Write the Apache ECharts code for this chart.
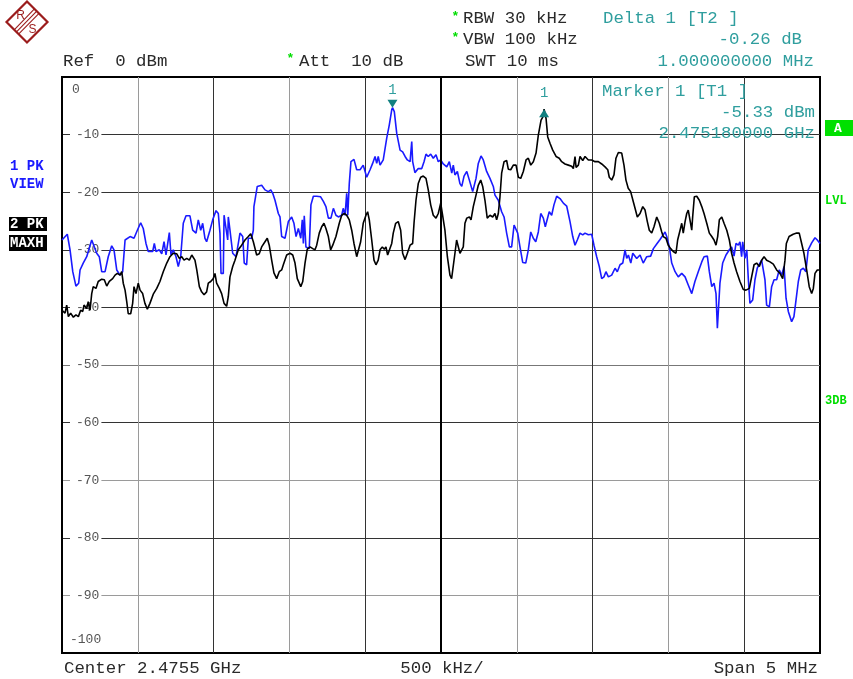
<!DOCTYPE html>
<html>
<head>
<meta charset="utf-8">
<script src="https://cdn.jsdelivr.net/npm/echarts@6/dist/echarts.min.js"></script>
<style>
  html, body { margin: 0; padding: 0; background: #fff; }
  #chart { width: 853px; height: 679px; }
</style>
</head>
<body>
<div id="chart"></div>
<script>
// Sweep setup (MHz / dBm)
const centerFreq = 2475.5;
const spanMHz = 5;
const divFreq = 0.5;
const refLevel = 0;
const bottomLevel = -100;
const levelDiv = 10;
const startFreq = centerFreq - spanMHz / 2;
const stopFreq = centerFreq + spanMHz / 2;

// Marker readouts
const marker1 = { freq: 2475.18, level: -5.33 };
const delta1 = { dFreq: 1.0, dLevel: -0.26 };

// Trace 1: PK, VIEW  [frequency MHz, level dBm]
const trace1 = [
  [2473.000,-28.3],[2473.035,-27.3],[2473.053,-30.0],[2473.071,-33.8],[2473.092,-36.3],[2473.110,-35.8],[2473.119,-33.5],[2473.140,-32.3],
  [2473.163,-31.2],[2473.196,-28.3],[2473.206,-28.0],[2473.229,-30.6],[2473.246,-31.2],[2473.262,-33.8],[2473.284,-33.8],[2473.305,-31.2],
  [2473.328,-29.3],[2473.343,-30.0],[2473.361,-33.5],[2473.383,-34.4],[2473.400,-33.8],[2473.416,-28.3],[2473.449,-27.7],[2473.475,-28.0],
  [2473.497,-26.6],[2473.519,-25.3],[2473.536,-26.3],[2473.554,-28.9],[2473.569,-30.3],[2473.598,-30.3],[2473.609,-28.9],[2473.620,-30.3],
  [2473.642,-30.0],[2473.658,-30.7],[2473.673,-28.6],[2473.686,-30.9],[2473.708,-27.0],[2473.719,-30.9],[2473.734,-30.0],[2473.752,-31.2],
  [2473.767,-32.9],[2473.783,-31.2],[2473.800,-25.4],[2473.818,-24.1],[2473.844,-24.1],[2473.862,-26.6],[2473.884,-27.1],[2473.899,-24.8],
  [2473.915,-26.6],[2473.928,-25.4],[2473.943,-28.0],[2473.954,-28.6],[2473.976,-26.6],[2473.994,-24.8],[2474.016,-23.2],[2474.031,-23.7],
  [2474.042,-27.1],[2474.049,-34.1],[2474.064,-34.1],[2474.069,-24.0],[2474.082,-24.3],[2474.093,-28.3],[2474.097,-24.3],[2474.108,-26.6],
  [2474.126,-30.6],[2474.148,-31.2],[2474.163,-28.9],[2474.174,-27.1],[2474.192,-27.7],[2474.202,-32.3],[2474.218,-32.6],[2474.229,-28.0],
  [2474.251,-28.0],[2474.262,-26.6],[2474.266,-22.5],[2474.288,-19.0],[2474.317,-18.8],[2474.339,-19.6],[2474.361,-19.9],[2474.377,-19.6],
  [2474.390,-20.2],[2474.405,-21.4],[2474.427,-23.7],[2474.438,-24.3],[2474.449,-27.7],[2474.471,-28.0],[2474.493,-25.1],[2474.515,-24.3],
  [2474.530,-25.4],[2474.544,-27.7],[2474.559,-26.3],[2474.575,-28.0],[2474.585,-24.8],[2474.592,-28.9],[2474.598,-24.1],[2474.609,-29.5],
  [2474.631,-29.8],[2474.642,-22.2],[2474.658,-20.7],[2474.680,-20.7],[2474.706,-20.8],[2474.724,-21.6],[2474.741,-22.5],[2474.757,-24.5],
  [2474.774,-24.5],[2474.790,-22.8],[2474.807,-24.0],[2474.823,-24.3],[2474.845,-24.0],[2474.855,-22.8],[2474.867,-24.0],[2474.878,-20.2],
  [2474.885,-24.0],[2474.895,-18.5],[2474.906,-14.7],[2474.926,-14.3],[2474.944,-16.1],[2474.966,-16.1],[2474.987,-15.3],[2475.010,-17.4],
  [2475.032,-16.1],[2475.049,-15.0],[2475.065,-13.8],[2475.076,-15.0],[2475.086,-13.8],[2475.098,-15.3],[2475.119,-14.4],[2475.142,-10.6],
  [2475.159,-8.3],[2475.175,-5.7],[2475.180,-5.33],[2475.192,-6.0],[2475.208,-9.8],[2475.230,-12.7],[2475.247,-13.0],[2475.263,-13.8],
  [2475.278,-14.4],[2475.296,-14.7],[2475.307,-11.2],[2475.313,-14.7],[2475.328,-16.6],[2475.350,-15.9],[2475.373,-15.9],[2475.388,-14.7],
  [2475.401,-13.4],[2475.416,-13.8],[2475.432,-13.4],[2475.449,-14.1],[2475.467,-13.5],[2475.482,-14.7],[2475.498,-14.4],[2475.515,-15.1],
  [2475.538,-15.6],[2475.555,-14.7],[2475.571,-16.7],[2475.581,-15.3],[2475.592,-17.0],[2475.608,-16.4],[2475.625,-18.5],[2475.637,-19.0],
  [2475.652,-17.2],[2475.670,-16.4],[2475.687,-17.9],[2475.709,-19.9],[2475.731,-17.6],[2475.746,-15.0],[2475.764,-13.7],[2475.779,-14.4],
  [2475.801,-16.4],[2475.823,-17.6],[2475.845,-19.0],[2475.856,-20.5],[2475.878,-21.4],[2475.900,-23.4],[2475.916,-24.3],[2475.933,-27.1],
  [2475.951,-29.5],[2475.966,-29.5],[2475.982,-25.7],[2475.995,-25.4],[2476.006,-27.1],[2476.021,-29.5],[2476.039,-32.2],[2476.059,-32.3],
  [2476.076,-30.0],[2476.092,-26.9],[2476.109,-28.0],[2476.125,-28.6],[2476.142,-26.9],[2476.158,-23.7],[2476.175,-24.5],[2476.188,-26.0],
  [2476.201,-25.7],[2476.214,-23.4],[2476.230,-24.0],[2476.245,-22.2],[2476.263,-20.7],[2476.285,-21.1],[2476.307,-21.9],[2476.329,-22.4],
  [2476.351,-25.1],[2476.369,-27.7],[2476.384,-29.2],[2476.399,-28.3],[2476.417,-27.1],[2476.435,-27.4],[2476.450,-27.1],[2476.472,-27.4],
  [2476.494,-27.3],[2476.509,-29.2],[2476.527,-31.2],[2476.544,-32.9],[2476.560,-35.0],[2476.575,-34.7],[2476.588,-33.8],[2476.604,-34.7],
  [2476.626,-34.4],[2476.648,-33.2],[2476.663,-33.8],[2476.681,-32.6],[2476.699,-32.3],[2476.714,-30.0],[2476.725,-31.5],[2476.736,-30.9],
  [2476.752,-32.3],[2476.765,-30.6],[2476.791,-31.5],[2476.813,-30.9],[2476.834,-32.3],[2476.857,-31.2],[2476.883,-31.1],[2476.901,-29.8],
  [2476.923,-29.0],[2476.945,-28.2],[2476.966,-27.4],[2476.978,-26.9],[2476.989,-27.7],[2477.006,-29.5],[2477.022,-32.3],[2477.044,-33.8],
  [2477.065,-34.7],[2477.088,-34.1],[2477.110,-34.7],[2477.131,-36.1],[2477.154,-37.6],[2477.175,-35.5],[2477.197,-33.8],[2477.220,-32.1],
  [2477.235,-31.2],[2477.257,-31.1],[2477.270,-33.8],[2477.286,-36.4],[2477.301,-35.8],[2477.314,-37.6],[2477.323,-43.6],[2477.336,-43.9],
  [2477.340,-35.8],[2477.358,-32.3],[2477.380,-30.9],[2477.402,-30.0],[2477.417,-29.5],[2477.433,-31.1],[2477.446,-28.9],[2477.461,-29.2],
  [2477.472,-28.6],[2477.483,-31.2],[2477.490,-28.6],[2477.505,-31.5],[2477.517,-30.0],[2477.527,-35.0],[2477.538,-39.3],[2477.556,-38.7],
  [2477.571,-35.2],[2477.586,-33.2],[2477.604,-32.3],[2477.615,-31.8],[2477.626,-32.1],[2477.637,-35.2],[2477.648,-39.6],[2477.666,-39.9],
  [2477.681,-36.4],[2477.697,-35.2],[2477.714,-35.2],[2477.731,-33.5],[2477.747,-34.4],[2477.763,-32.9],[2477.776,-38.4],[2477.791,-40.7],
  [2477.813,-42.5],[2477.828,-41.6],[2477.842,-38.7],[2477.857,-35.5],[2477.873,-33.5],[2477.890,-33.2],[2477.907,-33.8],[2477.922,-30.0],
  [2477.945,-28.8],[2477.967,-27.9],[2477.982,-28.3],[2478.000,-28.9]
];

// Trace 2: PK, MAXH  [frequency MHz, level dBm]
const trace2 = [
  [2473.000,-40.5],[2473.020,-41.0],[2473.031,-39.6],[2473.042,-41.6],[2473.057,-41.0],[2473.075,-41.7],[2473.092,-41.3],[2473.108,-41.6],
  [2473.123,-40.5],[2473.137,-40.7],[2473.145,-39.6],[2473.163,-40.2],[2473.173,-39.0],[2473.185,-40.5],[2473.196,-37.6],[2473.206,-36.4],
  [2473.224,-36.7],[2473.239,-35.5],[2473.262,-35.1],[2473.279,-35.2],[2473.295,-36.3],[2473.312,-35.5],[2473.334,-35.0],[2473.350,-34.4],
  [2473.365,-34.1],[2473.383,-34.4],[2473.394,-33.8],[2473.404,-35.8],[2473.416,-37.0],[2473.427,-39.0],[2473.437,-41.1],[2473.453,-41.1],
  [2473.466,-39.3],[2473.475,-36.4],[2473.488,-37.6],[2473.503,-35.8],[2473.515,-37.0],[2473.532,-37.6],[2473.547,-39.3],[2473.563,-40.3],
  [2473.580,-39.3],[2473.602,-37.7],[2473.625,-36.7],[2473.646,-35.5],[2473.668,-33.8],[2473.691,-32.3],[2473.712,-31.2],[2473.734,-30.6],
  [2473.757,-30.7],[2473.774,-31.5],[2473.790,-31.2],[2473.805,-31.8],[2473.823,-31.5],[2473.840,-31.8],[2473.856,-30.9],[2473.866,-30.7],
  [2473.877,-31.8],[2473.889,-33.5],[2473.906,-36.4],[2473.921,-37.3],[2473.937,-37.8],[2473.954,-37.3],[2473.965,-35.8],[2473.981,-35.5],
  [2473.998,-35.0],[2474.009,-34.1],[2474.020,-35.8],[2474.038,-36.7],[2474.053,-37.6],[2474.069,-39.3],[2474.086,-39.8],[2474.097,-38.1],
  [2474.108,-34.7],[2474.126,-32.9],[2474.141,-31.8],[2474.163,-30.0],[2474.185,-29.2],[2474.207,-28.3],[2474.229,-27.7],[2474.245,-27.2],
  [2474.262,-28.6],[2474.284,-30.9],[2474.301,-30.7],[2474.317,-29.5],[2474.339,-28.6],[2474.354,-28.0],[2474.367,-29.2],[2474.383,-31.8],
  [2474.398,-34.0],[2474.416,-35.0],[2474.433,-33.8],[2474.449,-33.5],[2474.460,-32.6],[2474.482,-30.9],[2474.504,-30.6],[2474.522,-30.9],
  [2474.537,-32.3],[2474.552,-35.0],[2474.575,-36.4],[2474.588,-35.5],[2474.603,-32.3],[2474.618,-29.9],[2474.636,-29.5],[2474.654,-29.8],
  [2474.669,-30.0],[2474.680,-29.2],[2474.697,-27.1],[2474.713,-26.0],[2474.728,-25.4],[2474.741,-26.3],[2474.757,-27.7],[2474.772,-30.0],
  [2474.786,-29.2],[2474.807,-27.7],[2474.829,-25.4],[2474.845,-24.0],[2474.862,-23.7],[2474.878,-24.0],[2474.895,-24.8],[2474.911,-26.6],
  [2474.926,-28.9],[2474.944,-31.2],[2474.955,-31.2],[2474.970,-28.6],[2474.987,-25.4],[2475.005,-24.0],[2475.016,-23.4],[2475.027,-24.8],
  [2475.043,-28.3],[2475.058,-31.8],[2475.071,-32.6],[2475.086,-31.8],[2475.098,-30.0],[2475.113,-29.5],[2475.126,-29.9],[2475.137,-29.5],
  [2475.148,-30.9],[2475.159,-31.2],[2475.175,-28.9],[2475.185,-27.1],[2475.201,-25.4],[2475.218,-25.1],[2475.234,-26.6],[2475.247,-30.6],
  [2475.263,-31.7],[2475.278,-30.6],[2475.296,-29.2],[2475.313,-28.9],[2475.322,-25.4],[2475.335,-21.4],[2475.350,-18.5],[2475.366,-17.4],
  [2475.383,-17.2],[2475.401,-17.6],[2475.416,-19.6],[2475.432,-22.2],[2475.449,-24.0],[2475.467,-24.5],[2475.482,-23.7],[2475.498,-21.9],
  [2475.511,-22.2],[2475.526,-26.6],[2475.542,-31.2],[2475.559,-34.4],[2475.570,-35.0],[2475.581,-34.8],[2475.592,-30.6],[2475.603,-28.3],
  [2475.614,-28.6],[2475.625,-30.6],[2475.637,-30.7],[2475.647,-29.5],[2475.658,-25.4],[2475.670,-24.5],[2475.687,-24.3],[2475.698,-24.8],
  [2475.713,-22.5],[2475.731,-20.5],[2475.746,-18.8],[2475.762,-17.9],[2475.775,-19.0],[2475.790,-21.4],[2475.805,-24.5],[2475.823,-24.0],
  [2475.841,-24.3],[2475.856,-23.7],[2475.867,-24.8],[2475.878,-23.7],[2475.889,-20.8],[2475.900,-16.7],[2475.916,-14.7],[2475.933,-14.5],
  [2475.944,-16.0],[2475.960,-16.1],[2475.977,-15.3],[2475.995,-15.3],[2476.010,-17.4],[2476.026,-17.6],[2476.043,-16.4],[2476.061,-14.4],
  [2476.076,-14.1],[2476.092,-15.3],[2476.109,-14.7],[2476.127,-13.2],[2476.142,-10.1],[2476.160,-7.5],[2476.175,-6.8],[2476.180,-5.59],
  [2476.193,-7.2],[2476.204,-10.4],[2476.219,-11.5],[2476.237,-12.7],[2476.259,-13.8],[2476.280,-14.1],[2476.296,-14.7],[2476.318,-15.1],
  [2476.340,-15.3],[2476.362,-15.5],[2476.373,-15.9],[2476.384,-13.8],[2476.391,-15.7],[2476.406,-15.3],[2476.417,-13.8],[2476.435,-14.5],
  [2476.450,-13.8],[2476.472,-14.4],[2476.494,-14.4],[2476.516,-14.7],[2476.538,-14.7],[2476.560,-15.1],[2476.582,-15.6],[2476.600,-16.1],
  [2476.610,-17.4],[2476.626,-17.9],[2476.641,-17.0],[2476.654,-14.1],[2476.670,-13.1],[2476.692,-13.2],[2476.707,-15.3],[2476.720,-17.9],
  [2476.735,-19.3],[2476.751,-19.9],[2476.765,-21.3],[2476.780,-22.8],[2476.795,-24.3],[2476.813,-23.7],[2476.831,-22.5],[2476.846,-23.1],
  [2476.861,-25.1],[2476.874,-26.6],[2476.890,-27.1],[2476.905,-26.0],[2476.923,-24.3],[2476.940,-25.4],[2476.956,-26.9],[2476.966,-27.7],
  [2476.984,-28.0],[2476.999,-29.2],[2477.015,-29.8],[2477.032,-30.3],[2477.050,-30.6],[2477.061,-28.3],[2477.077,-26.6],[2477.088,-25.4],
  [2477.098,-27.1],[2477.110,-25.1],[2477.121,-23.7],[2477.131,-23.1],[2477.143,-23.4],[2477.154,-26.6],[2477.160,-24.3],[2477.171,-20.8],
  [2477.187,-20.7],[2477.204,-21.4],[2477.220,-22.5],[2477.235,-23.7],[2477.253,-25.4],[2477.270,-27.1],[2477.286,-27.7],[2477.301,-28.3],
  [2477.314,-29.2],[2477.325,-27.7],[2477.336,-24.8],[2477.352,-24.3],[2477.367,-25.4],[2477.385,-26.6],[2477.402,-28.3],[2477.417,-30.6],
  [2477.433,-32.3],[2477.450,-33.8],[2477.472,-35.5],[2477.494,-36.9],[2477.512,-37.0],[2477.534,-36.7],[2477.549,-34.7],[2477.565,-32.6],
  [2477.582,-32.3],[2477.600,-32.9],[2477.615,-31.8],[2477.631,-31.2],[2477.648,-31.8],[2477.670,-32.1],[2477.692,-32.5],[2477.714,-33.5],
  [2477.736,-34.1],[2477.754,-35.0],[2477.769,-31.8],[2477.778,-28.9],[2477.796,-27.7],[2477.823,-27.3],[2477.846,-27.1],[2477.863,-27.1],
  [2477.879,-28.9],[2477.894,-30.6],[2477.912,-33.5],[2477.929,-36.4],[2477.945,-37.6],[2477.956,-36.7],[2477.967,-34.1],[2477.982,-33.5],
  [2478.000,-33.5]
];

// Graticule line shades, one per division line (left/bottom first)
const xGridColors = ['#000','#9a9a9a','#333','#9a9a9a','#333','#000','#9a9a9a','#333','#9a9a9a','#333','#000'];
const yGridColors = ['#000','#9a9a9a','#333','#9a9a9a','#333','#777','#333','#333','#333','#333','#000'];

const MONO = '"Liberation Mono", "DejaVu Sans Mono", monospace';
const TEAL = '#2f9e9e';
const TEAL_DARK = '#128080';
const GREEN = '#00dd00';
const BLUE = '#1a1aff';
const LOGO = '#9b1c1c';
const TXT = '#2a2a2a';
const HEAD = 17.4;

function txt(text, x, y, opts) {
  opts = opts || {};
  const align = opts.align || 'left';
  return {
    type: 'text', x: x, y: y, silent: true, z: 100,
    style: {
      text: text,
      font: (opts.weight ? opts.weight + ' ' : '') + (opts.size || HEAD) + 'px ' + (opts.family || MONO),
      fill: opts.color || TXT,
      align: align, textAlign: align,
      verticalAlign: 'middle', textVerticalAlign: 'middle'
    }
  };
}

const deltaFreqAbs = marker1.freq + delta1.dFreq;
const deltaLevelAbs = marker1.level + delta1.dLevel;

const graphics = [
  // Logo
  { type: 'polygon', silent: true, shape: { points: [[27, 1.5], [47.5, 22], [27, 42.5], [6.5, 22]] },
    style: { fill: '#fff', stroke: LOGO, lineWidth: 2.2 } },
  { type: 'line', silent: true, shape: { x1: 14.2, y1: 29.8, x2: 34.2, y2: 9.2 }, style: { stroke: LOGO, lineWidth: 1.1 } },
  { type: 'line', silent: true, shape: { x1: 16.5, y1: 31.8, x2: 36.5, y2: 11.4 }, style: { stroke: LOGO, lineWidth: 1.1 } },
  { type: 'line', silent: true, shape: { x1: 18.8, y1: 33.8, x2: 38.8, y2: 13.6 }, style: { stroke: LOGO, lineWidth: 1.1 } },
  txt('R', 20.5, 16, { size: 12, family: '"Liberation Sans", sans-serif', color: LOGO, align: 'center' }),
  txt('S', 32.5, 29.5, { size: 12, family: '"Liberation Sans", sans-serif', color: LOGO, align: 'center' }),

  // Header
  txt('*', 455.5, 17, { size: 13, weight: 'bold', color: GREEN, align: 'center' }),
  txt('RBW 30 kHz', 463, 18.5),
  txt('Delta 1 [T2 ]', 603, 18.5, { color: TEAL }),
  txt('*', 455.5, 38, { size: 13, weight: 'bold', color: GREEN, align: 'center' }),
  txt('VBW 100 kHz', 463, 39.5),
  txt(delta1.dLevel.toFixed(2) + ' dB', 802, 39.5, { color: TEAL, align: 'right' }),
  txt('SWT 10 ms', 465, 61),
  txt(delta1.dFreq.toFixed(9) + ' MHz', 814, 61, { color: TEAL, align: 'right' }),
  txt('Ref  ' + refLevel + ' dBm', 63, 61),
  txt('*', 290.5, 59, { size: 13, weight: 'bold', color: GREEN, align: 'center' }),
  txt('Att  10 dB', 299, 61),

  // Marker readout inside the display
  txt('Marker 1 [T1 ]', 602, 91, { color: TEAL }),
  txt(marker1.level.toFixed(2) + ' dBm', 815, 112, { color: TEAL, align: 'right' }),
  txt((marker1.freq / 1000).toFixed(9) + ' GHz', 815, 133, { color: TEAL, align: 'right' }),

  // Footer
  txt('Center ' + (centerFreq / 1000) + ' GHz', 64, 668.5),
  txt((divFreq * 1000) + ' kHz/', 442, 668.5, { align: 'center' }),
  txt('Span ' + spanMHz + ' MHz', 818, 668.5, { align: 'right' }),

  // Trace status labels
  txt('1 PK', 10, 166, { size: 14, weight: 'bold', color: BLUE }),
  txt('VIEW', 10, 184.5, { size: 14, weight: 'bold', color: BLUE }),
  { type: 'rect', silent: true, shape: { x: 9, y: 217, width: 38, height: 14 }, style: { fill: '#000' } },
  { type: 'rect', silent: true, shape: { x: 9, y: 235, width: 38, height: 16 }, style: { fill: '#000' } },
  txt('2 PK', 10, 224.5, { size: 14, weight: 'bold', color: '#fff' }),
  txt('MAXH', 10, 243.5, { size: 14, weight: 'bold', color: '#fff' }),

  // Right side indicators
  { type: 'rect', silent: true, shape: { x: 825, y: 120, width: 28, height: 16 }, style: { fill: '#00e000' } },
  txt('A', 838, 128.5, { size: 13, weight: 'bold', color: '#fff', align: 'center' }),
  txt('LVL', 825, 201, { size: 12, weight: 'bold', color: GREEN }),
  txt('3DB', 825, 400.5, { size: 12, weight: 'bold', color: GREEN })
];

const chart = echarts.init(document.getElementById('chart'), null, { renderer: 'canvas' });

const labelBase = { fontFamily: MONO, fontSize: 13, color: '#555' };

chart.setOption({
  animation: false,
  backgroundColor: '#fff',
  grid: {
    left: 62, top: 77, width: 758, height: 576,
    show: true, borderColor: '#000', borderWidth: 2, backgroundColor: '#fff'
  },
  xAxis: {
    type: 'value', min: startFreq, max: stopFreq, interval: divFreq,
    axisLine: { show: false }, axisTick: { show: false }, axisLabel: { show: false },
    splitLine: { show: true, lineStyle: { width: 1, color: xGridColors } }
  },
  yAxis: {
    type: 'value', min: bottomLevel, max: refLevel, interval: levelDiv,
    axisLine: { show: false }, axisTick: { show: false },
    splitLine: { show: true, lineStyle: { width: 1, color: yGridColors } },
    axisLabel: {
      inside: true, margin: 8, showMinLabel: true, showMaxLabel: true,
      formatter: function (v) {
        if (v === refLevel) return '{top|' + v + '}';
        if (v === bottomLevel) return '{bot|' + v + '}';
        return '{mid|' + v + '}';
      },
      rich: {
        top: Object.assign({ padding: [26, 0, 0, 2] }, labelBase),
        mid: Object.assign({ padding: [0, 2, 0, 6], backgroundColor: '#fff' }, labelBase),
        bot: Object.assign({ padding: [0, 0, 26, 0] }, labelBase)
      }
    }
  },
  series: [
    {
      name: '1 PK VIEW', type: 'line', data: trace1, symbol: 'none', z: 3,
      lineStyle: { color: BLUE, width: 1.6 },
      markPoint: {
        silent: true,
        data: [{
          coord: [marker1.freq, marker1.level],
          symbol: 'path://M0,0L10,0L5,8Z', symbolSize: [10, 8], symbolOffset: [0, -4],
          itemStyle: { color: TEAL_DARK },
          label: { show: true, position: 'top', distance: 2, formatter: '1', color: TEAL, fontFamily: MONO, fontSize: 14 }
        }]
      }
    },
    {
      name: '2 PK MAXH', type: 'line', data: trace2, symbol: 'none', z: 4,
      lineStyle: { color: '#000', width: 1.6 },
      markLine: {
        silent: true, symbol: ['none', 'none'], label: { show: false },
        lineStyle: { color: '#000', width: 2, type: 'solid' },
        data: [{ xAxis: centerFreq }]
      },
      markPoint: {
        silent: true,
        data: [{
          coord: [deltaFreqAbs, deltaLevelAbs],
          symbol: 'triangle', symbolSize: [10, 8], symbolOffset: [0, 4],
          itemStyle: { color: TEAL_DARK },
          label: { show: true, position: 'top', distance: 9, formatter: '1', color: TEAL, fontFamily: MONO, fontSize: 14 }
        }]
      }
    }
  ],
  graphic: { elements: graphics }
});
</script>
</body>
</html>
